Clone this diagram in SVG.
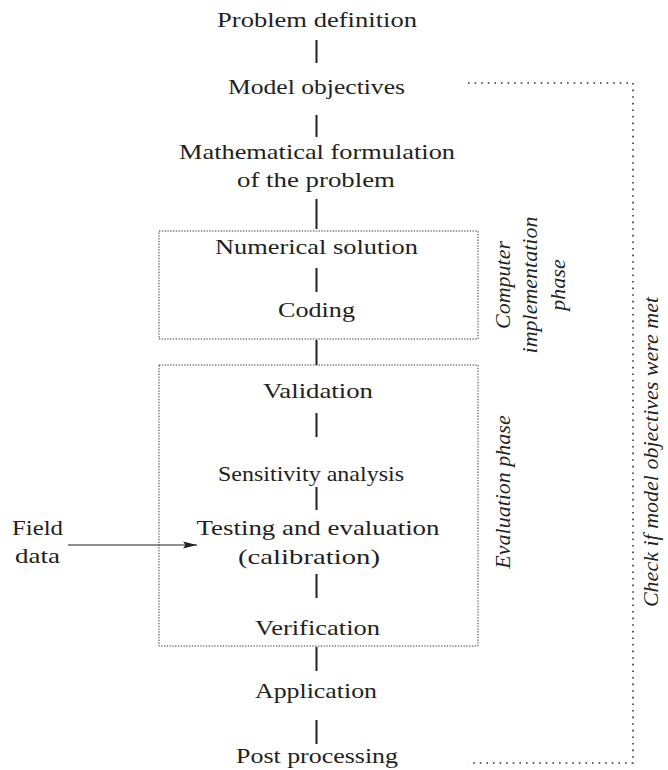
<svg xmlns="http://www.w3.org/2000/svg" width="668" height="770" viewBox="0 0 668 770">
  <defs>
    <style>
      .lbl { font-family: "Liberation Serif", "Times New Roman", serif; font-size: 22px; fill: #231f20; text-anchor: middle; }
      .note { font-family: "Liberation Serif", "Times New Roman", serif; font-size: 22px; font-style: italic; fill: #231f20; text-anchor: middle; }
      .link { stroke: #231f20; stroke-width: 2; fill: none; }
      .phase { fill: none; stroke: #333; stroke-width: 1; stroke-dasharray: 1.3 1.5; }
      .loop { fill: none; stroke: #333; stroke-width: 1.6; stroke-dasharray: 1.6 5; }
      .feed { stroke: #231f20; stroke-width: 1.2; fill: none; }
    </style>
    <marker id="arrowhead" markerUnits="userSpaceOnUse" markerWidth="15" markerHeight="8" refX="14" refY="4" orient="auto">
      <path d="M0,0.5 L14,4 L0,7.5 L2.5,4 Z" fill="#231f20"/>
    </marker>
  </defs>

  <!-- phase frames -->
  <g id="computer-implementation-phase">
    <rect class="phase" x="159" y="231" width="319" height="108"/>
    <text class="note" transform="translate(510,285) rotate(-90)">Computer</text>
    <text class="note" transform="translate(537,285) rotate(-90)">implementation</text>
    <text class="note" transform="translate(565,285) rotate(-90)">phase</text>
  </g>
  <g id="evaluation-phase">
    <rect class="phase" x="159" y="365" width="319" height="281"/>
    <text class="note" transform="translate(510,492) rotate(-90)">Evaluation phase</text>
  </g>

  <!-- feedback loop back to the objectives -->
  <g id="objectives-check">
    <polyline class="loop" points="468,83 633,83 633,763 468,763"/>
    <text class="note" transform="translate(658,452) rotate(-90)">Check if model objectives were met</text>
  </g>

  <!-- connectors -->
  <g id="connectors">
    <line class="link" x1="316.5" y1="40" x2="316.5" y2="63"/>
    <line class="link" x1="316.5" y1="115" x2="316.5" y2="137"/>
    <line class="link" x1="316.5" y1="199" x2="316.5" y2="229"/>
    <line class="link" x1="316.5" y1="268" x2="316.5" y2="292"/>
    <line class="link" x1="316.5" y1="340" x2="316.5" y2="365"/>
    <line class="link" x1="316.5" y1="413" x2="316.5" y2="437"/>
    <line class="link" x1="316.5" y1="487" x2="316.5" y2="510"/>
    <line class="link" x1="316.5" y1="574" x2="316.5" y2="598"/>
    <line class="link" x1="316.5" y1="647" x2="316.5" y2="671"/>
    <line class="link" x1="316.5" y1="720" x2="316.5" y2="744"/>
    <line class="feed" x1="68" y1="545" x2="197" y2="545" marker-end="url(#arrowhead)"/>
  </g>

  <!-- process steps -->
  <g id="problem-definition">
    <text class="lbl" x="317" y="27" textLength="200" lengthAdjust="spacingAndGlyphs">Problem definition</text>
  </g>
  <g id="model-objectives">
    <text class="lbl" x="316.5" y="94" textLength="177" lengthAdjust="spacingAndGlyphs">Model objectives</text>
  </g>
  <g id="mathematical-formulation">
    <text class="lbl" x="317" y="159" textLength="276" lengthAdjust="spacingAndGlyphs">Mathematical formulation</text>
    <text class="lbl" x="316" y="187" textLength="158" lengthAdjust="spacingAndGlyphs">of the problem</text>
  </g>
  <g id="numerical-solution">
    <text class="lbl" x="316.5" y="254" textLength="203" lengthAdjust="spacingAndGlyphs">Numerical solution</text>
  </g>
  <g id="coding">
    <text class="lbl" x="316.5" y="317" textLength="77" lengthAdjust="spacingAndGlyphs">Coding</text>
  </g>
  <g id="validation">
    <text class="lbl" x="318" y="398" textLength="110" lengthAdjust="spacingAndGlyphs">Validation</text>
  </g>
  <g id="sensitivity-analysis">
    <text class="lbl" x="311" y="481" textLength="186" lengthAdjust="spacingAndGlyphs">Sensitivity analysis</text>
  </g>
  <g id="testing-evaluation">
    <text class="lbl" x="318" y="535" textLength="243" lengthAdjust="spacingAndGlyphs">Testing and evaluation</text>
    <text class="lbl" x="309" y="564" textLength="142" lengthAdjust="spacingAndGlyphs">(calibration)</text>
  </g>
  <g id="field-data">
    <text class="lbl" x="37.5" y="535" textLength="51" lengthAdjust="spacingAndGlyphs">Field</text>
    <text class="lbl" x="37.5" y="563" textLength="45" lengthAdjust="spacingAndGlyphs">data</text>
  </g>
  <g id="verification">
    <text class="lbl" x="317.5" y="635" textLength="125" lengthAdjust="spacingAndGlyphs">Verification</text>
  </g>
  <g id="application">
    <text class="lbl" x="316" y="698" textLength="122" lengthAdjust="spacingAndGlyphs">Application</text>
  </g>
  <g id="post-processing">
    <text class="lbl" x="317" y="763" textLength="162" lengthAdjust="spacingAndGlyphs">Post processing</text>
  </g>
</svg>
